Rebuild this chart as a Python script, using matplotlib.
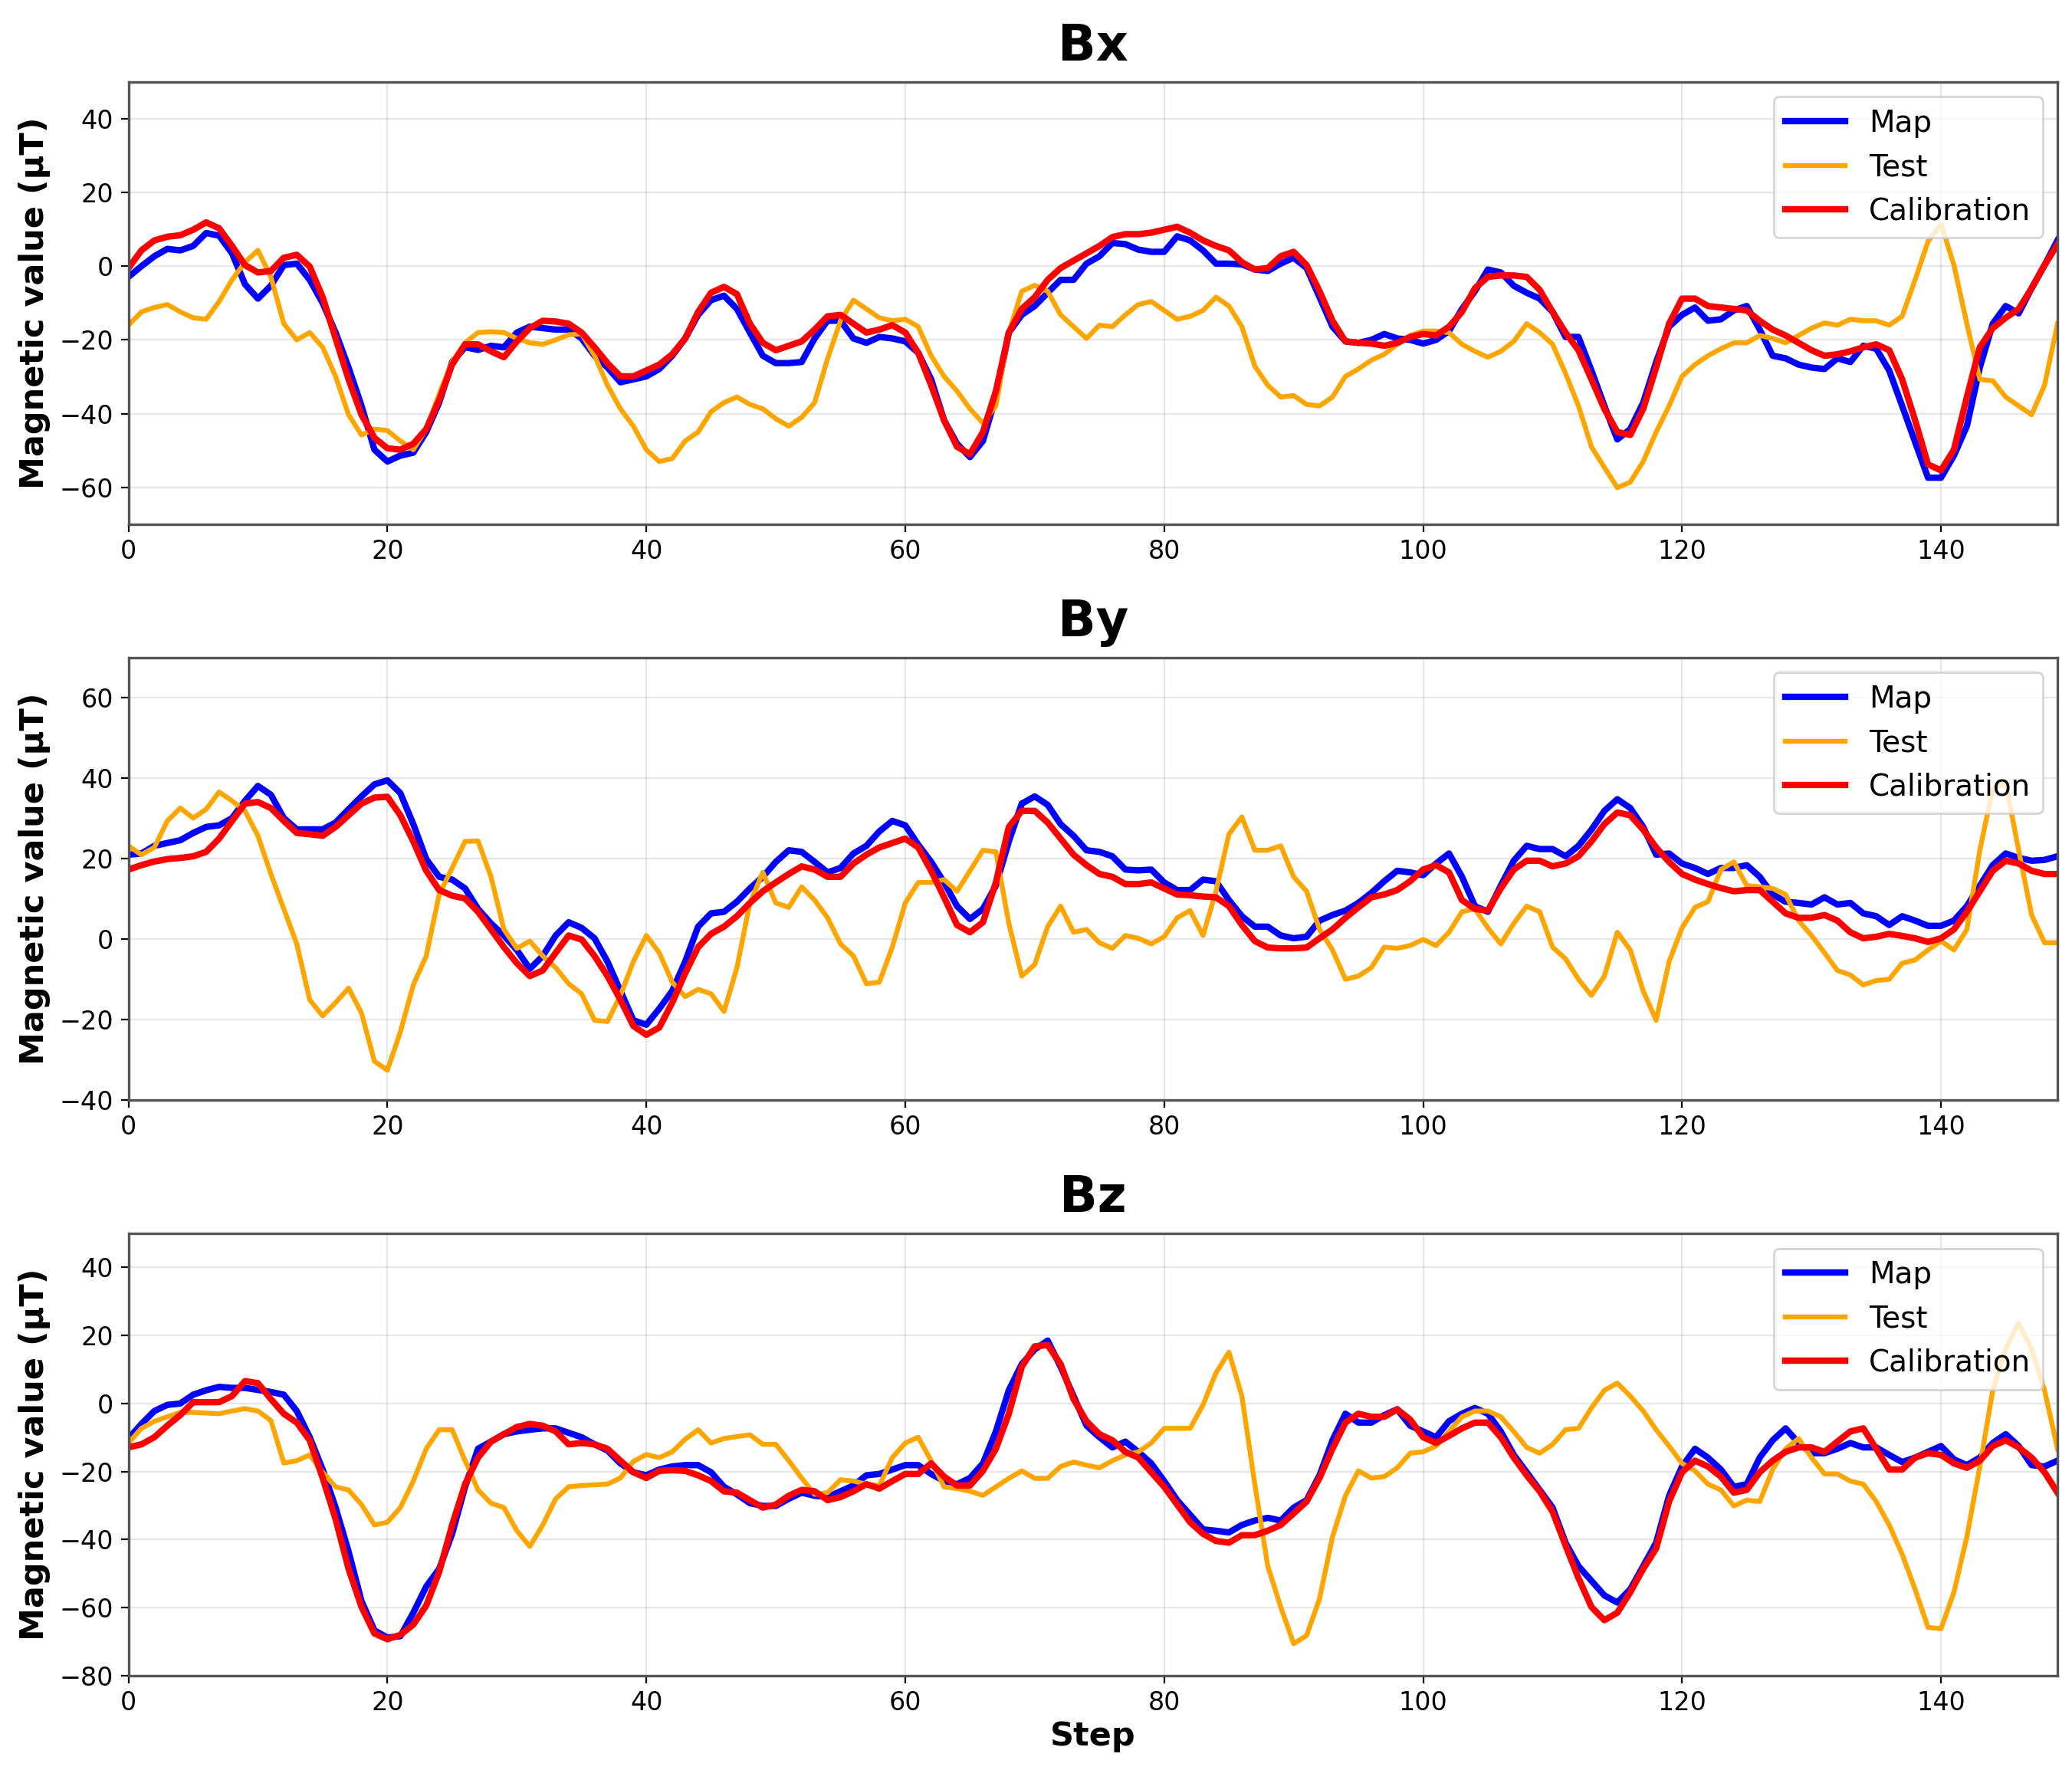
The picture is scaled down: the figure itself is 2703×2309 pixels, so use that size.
import numpy as np
import matplotlib
matplotlib.use("Agg")
import matplotlib.pyplot as plt

# values, one per step (0..149)
steps = np.arange(150)

bx_map = [-2.9, 0, 2.7, 4.7, 4.3, 5.5, 9, 8.3, 3.5, -4.9,
          -8.8, -5.3, 0.3, 0.7, -3.7, -10, -18, -27.5, -37.9, -49.8,
          -53, -51.4, -50.6, -45, -37, -26, -22, -22.7, -21.6, -22,
          -18, -16.4, -16.8, -17.2, -17.2, -19.6, -24.3, -27.5, -31.5, -30.7,
          -29.9, -27.9, -24.3, -19.6, -13.2, -9.2, -8, -11.6, -18, -24.3,
          -26.3, -26.3, -26, -19.6, -14.8, -14.8, -19.6, -20.8, -19.2, -19.6,
          -20.4, -23.5, -30.7, -41.8, -48.2, -51.8, -47.4, -35.5, -18, -13.2,
          -10.8, -7.2, -3.7, -3.7, 0.7, 2.7, 6.3, 6, 4.5, 3.9,
          3.9, 8.1, 7, 4.3, 0.7, 0.7, 0.5, -0.9, -1.3, 0.7,
          2.3, -0.5, -8.4, -16.4, -20.4, -20.8, -20, -18.4, -19.6, -20,
          -21, -20, -17.6, -11.6, -6.8, -0.9, -1.7, -5.3, -7.2, -8.8,
          -12.4, -19.2, -19.2, -28.3, -37.9, -47, -44.2, -37, -26, -16.4,
          -13.2, -11.2, -14.8, -14.4, -12, -10.8, -17.2, -24.3, -25, -26.7,
          -27.5, -27.9, -25, -26, -21.6, -22.4, -28.3, -37.9, -47.7, -57.4,
          -57.4, -51.4, -43.4, -27.5, -15.6, -10.8, -12.8, -6, 0.3, 7]
bx_test = [-16, -12.4, -11.2, -10.4, -12.4, -14, -14.4, -9.6, -3.7, 1.1,
           4.3, -2.9, -15.6, -20, -18, -22, -29.9, -40.3, -45.8, -44.2,
           -44.6, -47.4, -49.8, -44.2, -34.7, -25.9, -20.8, -18, -17.8, -18,
           -19.6, -20.8, -21.2, -20, -18.6, -18.4, -24.3, -32.3, -38.7, -43.4,
           -49.8, -53, -52.2, -47.4, -45, -39.5, -37, -35.5, -37.5, -38.7,
           -41.4, -43.4, -41, -37, -25.1, -14.8, -9.2, -11.6, -14, -14.8,
           -14.4, -16.4, -24.3, -29.9, -33.9, -38.7, -42.6, -37.9, -18, -6.8,
           -5.2, -6.8, -13.2, -16.4, -19.6, -16, -16.4, -13.2, -10.4, -9.6,
           -12, -14.4, -13.6, -12, -8.4, -10.8, -16.4, -27.1, -32.3, -35.5,
           -35.1, -37.5, -37.9, -35.5, -29.9, -27.9, -25.5, -23.9, -21.2, -18.8,
           -17.6, -17.6, -18, -21.2, -23.1, -24.7, -23.1, -20.4, -15.6, -18,
           -21.2, -29.1, -37.9, -49, -54.6, -60.1, -58.6, -53, -45, -37.9,
           -29.9, -26.7, -24.3, -22.4, -20.8, -20.8, -18.8, -19.6, -20.8, -18.8,
           -16.8, -15.4, -16, -14.4, -14.8, -14.8, -16, -13.6, -3.7, 6.7,
           11.5, 0.3, -15.6, -30.7, -31.1, -35.5, -37.9, -40.3, -32.3, -15.6]
bx_cal = [-0.5, 4.3, 7, 8, 8.4, 9.9, 11.9, 10.3, 5.5, 0.3,
          -1.7, -1.3, 2.3, 3.1, -0.1, -8.4, -19.6, -30.7, -40.3, -46.6,
          -49.4, -49.8, -48.2, -44.2, -36.3, -26.7, -21.2, -21.2, -23.1, -24.7,
          -20.4, -16.8, -14.8, -15, -15.6, -18, -22, -26.3, -29.9, -29.9,
          -28.3, -26.7, -23.9, -19.6, -12.4, -7.2, -5.6, -7.6, -15.6, -20.8,
          -22.8, -21.6, -20.4, -17.2, -13.6, -13.2, -15.6, -18, -17.2, -16,
          -18, -23.5, -32.3, -41.8, -49, -51, -45, -33.9, -18, -11.6,
          -8.4, -3.7, -0.5, 1.5, 3.5, 5.5, 7.9, 8.7, 8.7, 9.1,
          9.9, 10.7, 9.1, 7, 5.5, 4.3, 1.1, -0.9, -0.5, 2.7,
          3.9, 0.3, -6.8, -14.8, -20.4, -20.8, -21, -21.6, -20.8, -19.2,
          -18.4, -18.8, -16.4, -12.4, -6, -2.9, -2.5, -2.5, -2.9, -6.4,
          -12.4, -18, -22.8, -30.7, -38.7, -45, -45.8, -38.7, -27.5, -15.6,
          -8.8, -8.8, -10.8, -11.2, -11.6, -12, -14.8, -17.2, -18.8, -20.8,
          -22.8, -24.3, -23.9, -23.1, -22, -21.2, -22.8, -30.7, -41.8, -53.8,
          -55.4, -49.8, -35.5, -22, -16.8, -14, -11.6, -6, 0.3, 5.9]

by_map = [21, 21.3, 23.2, 23.9, 24.6, 26.4, 27.9, 28.3, 30.1, 34.4,
          38.1, 35.9, 30.1, 27.3, 27.3, 27.3, 29, 32.3, 35.5, 38.5,
          39.5, 36.3, 28.6, 19.9, 15.5, 14.8, 12.6, 7.5, 3.9, 0.9,
          -2.7, -7.4, -4.2, 0.9, 4.2, 2.8, 0.2, -5.6, -12.9, -20.2,
          -21.3, -17.3, -12.9, -5.6, 3.1, 6.4, 6.8, 9.3, 12.6, 15.5,
          19.2, 22.1, 21.7, 19.2, 16.6, 17.7, 21.3, 23.2, 26.8, 29.4,
          28.3, 23.5, 19.2, 14.1, 8.2, 5, 7.5, 13.3, 24.3, 33.7,
          35.5, 33.4, 28.6, 25.7, 22.1, 21.7, 20.6, 17.3, 17.1, 17.3,
          14.1, 12.2, 12.2, 14.8, 14.4, 9.7, 5.7, 3.1, 3.1, 0.9,
          0.2, 0.6, 4.6, 6, 7.1, 9, 11.5, 14.4, 17, 16.6,
          15.9, 18.8, 21.3, 15.5, 8.2, 6.8, 13.3, 19.5, 23.2, 22.4,
          22.4, 20.6, 23.2, 27.2, 31.9, 34.8, 32.6, 27.9, 21, 21.3,
          18.8, 17.7, 16.2, 17.7, 17.7, 18.4, 15.5, 11.1, 9.3, 9,
          8.6, 10.4, 8.6, 9, 6.4, 5.7, 3.5, 5.7, 4.6, 3.3,
          3.3, 4.6, 8.2, 13.3, 18.4, 21.3, 20.2, 19.5, 19.7, 20.6]
by_test = [23.2, 21, 22.8, 29.4, 32.6, 30.1, 32.3, 36.6, 34.4, 31.9,
           25.7, 16.2, 7.5, -1.2, -15.1, -19.1, -15.8, -12.2, -18.4, -30.4,
           -32.6, -23.1, -11.4, -4.2, 11.1, 17.7, 24.3, 24.4, 15.5, 2.4,
           -2.3, -0.5, -4.2, -7.1, -11.1, -13.6, -20.2, -20.5, -14, -5.6,
           0.9, -3.4, -10.7, -14.3, -12.5, -13.6, -18, -7.1, 9, 16.6,
           9, 7.9, 13, 9.7, 5.3, -1.2, -4.2, -11.1, -10.7, -2,
           9, 14.1, 14.1, 14.8, 11.9, 17, 22.1, 21.7, 3.9, -9.2,
           -6.3, 3.1, 8.2, 1.7, 2.4, -0.9, -2.3, 0.9, 0.2, -1.2,
           0.6, 5.3, 7.1, 0.9, 11.9, 26.1, 30.4, 22.1, 22.1, 23.2,
           15.5, 11.9, 2.4, -2.7, -10, -9.2, -7.1, -2, -2.3, -1.6,
           -0.1, -1.6, 1.7, 6.8, 7.5, 2.8, -1.2, 3.9, 8.2, 6.8,
           -2, -4.9, -10, -14, -9.2, 1.7, -2.7, -12.9, -20.2, -5.6,
           2.8, 7.9, 9.3, 17.3, 19.2, 13.3, 13, 12.6, 11.1, 4.6,
           0.9, -3.4, -7.8, -8.9, -11.4, -10.3, -10, -6, -5.2, -2.7,
           -0.5, -2.7, 2.4, 22.1, 37.4, 38.8, 22.1, 6, -0.9, -0.9]
by_cal = [17.3, 18.4, 19.3, 19.9, 20.2, 20.6, 21.7, 25, 29.4, 33.7,
          34.1, 32.6, 29.4, 26.4, 26.1, 25.7, 27.9, 30.8, 33.7, 35.2,
          35.4, 30.8, 24.3, 17, 12.2, 10.8, 10.1, 6.8, 2.4, -2,
          -6, -9.2, -7.8, -3.4, 0.9, -0.1, -4.2, -9.2, -15.1, -21.6,
          -23.8, -22, -15.8, -8.5, -2, 1.3, 3.1, 5.7, 9, 11.9,
          14.1, 16.2, 18.1, 17.3, 15.5, 15.5, 18.8, 21, 22.8, 23.9,
          25, 22.8, 17, 10.4, 3.5, 1.7, 4.2, 14.1, 27.9, 31.9,
          31.9, 29, 25, 21, 18.4, 16.2, 15.5, 13.7, 13.7, 14.1,
          12.6, 11.1, 10.9, 10.6, 10.4, 8.2, 3.5, -0.5, -2.1, -2.3,
          -2.3, -2.1, 0.2, 2.4, 5.3, 7.9, 10.4, 11.1, 12.2, 14.4,
          17.3, 18.4, 16.6, 9.7, 7.5, 7.1, 12.6, 17.3, 19.5, 19.5,
          18.1, 18.8, 20.6, 24.3, 28.6, 31.5, 30.8, 27.2, 22.8, 19.2,
          16.2, 14.8, 13.7, 12.7, 11.9, 12.2, 12.2, 9.3, 6.4, 5.3,
          5.3, 6, 4.6, 1.7, 0.2, 0.6, 1.3, 0.8, 0.2, -0.7,
          0.2, 2.4, 6.8, 11.9, 17, 19.5, 18.8, 17, 16.2, 16.2]

bz_map = [-10.3, -6, -2.2, -0.4, 0, 2.6, 3.9, 4.9, 4.6, 4.6,
          4, 3.4, 2.6, -2.2, -9.9, -19.4, -30.6, -43.5, -58.1, -66.7,
          -68.8, -68.4, -61.5, -53.8, -48.6, -38.3, -24.5, -13.3, -11.2, -9,
          -8.2, -7.7, -7.3, -7.3, -8.6, -9.9, -12, -13.8, -17.6, -20.2,
          -21.1, -19.4, -18.5, -18.1, -18.1, -20.2, -24.5, -26.7, -29.3, -30.1,
          -30.1, -28, -26.2, -27.1, -27.5, -25.8, -24.1, -21.1, -20.7, -19.4,
          -18.1, -18.1, -20.7, -22.8, -23.7, -21.9, -17.6, -8.2, 3.9, 11.6,
          15.9, 18.5, 10.8, 2.2, -6.5, -9.9, -12.9, -11.2, -14.2, -17.6,
          -22.8, -28.4, -32.7, -37, -37.4, -37.9, -35.7, -34.4, -33.6, -34.4,
          -30.6, -28.4, -21.1, -10.8, -3, -5.6, -5.6, -3.4, -1.7, -6.5,
          -8.2, -9.9, -5.2, -3, -1.3, -3, -8.2, -15.1, -20.2, -25.4,
          -30.6, -40.9, -47.8, -52.1, -56.4, -58.5, -54.6, -47.8, -40.9, -27.1,
          -18.5, -13.3, -15.9, -19.4, -24.5, -23.7, -15.9, -10.8, -7.3, -11.6,
          -14.6, -14.6, -13.3, -11.6, -12.9, -12.9, -15.1, -17.2, -15.9, -14.2,
          -12.5, -16.4, -18.1, -15.9, -11.6, -9, -12.5, -18.1, -18.5, -16.8]
bz_test = [-11.6, -7.3, -5.2, -3.9, -2.6, -2.6, -2.8, -3, -2.2, -1.5,
           -2.2, -5, -17.5, -16.8, -15.1, -20.2, -24.5, -25.4, -29.7, -35.7,
           -34.9, -30.6, -22.8, -13.3, -7.7, -7.7, -16.8, -25.4, -29.3, -30.6,
           -37.4, -42, -35.7, -28, -24.5, -24.1, -23.9, -23.7, -21.9, -17,
           -15, -15.9, -14.2, -10.5, -7.7, -11.6, -10.3, -9.7, -9.2, -12,
           -12, -16.8, -21.9, -26.7, -26.2, -22.4, -22.8, -23.7, -24.1, -15.9,
           -11.6, -9.9, -16.8, -24.5, -25, -25.8, -27, -24.5, -22, -19.8,
           -22, -22, -18.5, -17.2, -18.1, -18.9, -16.8, -15.1, -14.2, -11.6,
           -7.3, -7.3, -7.3, -0.4, 9, 15.1, 2.2, -23.7, -47.8, -59.8,
           -70.6, -68.2, -57.4, -39.2, -27.1, -19.8, -21.9, -21.5, -18.9, -14.6,
           -14.2, -12.5, -8.2, -3.9, -2.2, -2.2, -3.9, -8.2, -12.9, -14.6,
           -12, -7.7, -7.3, -1.3, 3.9, 6, 2.2, -2.2, -7.7, -12.5,
           -17.6, -19.8, -23.7, -25.4, -30.1, -28.4, -28.8, -19.4, -13.3, -10.3,
           -15.9, -20.7, -20.7, -22.8, -23.7, -28.8, -35.7, -44.3, -54.6, -65.8,
           -66.2, -55.5, -39.2, -18.5, 3.9, 16, 23.7, 16, 3.9, -13.3]
bz_cal = [-12.9, -12, -9.9, -6.5, -3.4, 0.4, 0.4, 0.4, 2.2, 6.6,
          6, 1.3, -3, -5.6, -10.8, -21.9, -34, -48.6, -59.8, -67.6,
          -69.3, -68, -65, -59.4, -49.5, -35.7, -23.7, -15.9, -11.2, -9,
          -6.9, -6, -6.5, -8.2, -12, -11.6, -12, -13.3, -16.8, -20.2,
          -21.9, -19.8, -19.6, -19.8, -21.1, -22.8, -25.8, -26.2, -28.4, -30.6,
          -29.7, -27.1, -25.4, -25.8, -28.4, -27.5, -25.8, -23.7, -25, -22.8,
          -20.7, -20.7, -17.6, -21.5, -24.1, -24.1, -19.8, -13.3, -3, 10.8,
          16.8, 17.2, 11.6, 1.3, -5.2, -9, -10.8, -14.2, -15.9, -20.2,
          -24.5, -29.7, -34.9, -38.3, -40.4, -40.9, -38.7, -38.7, -37.4, -35.7,
          -32.3, -28.8, -21.9, -13.3, -5.6, -3, -3.9, -3.9, -1.7, -4.7,
          -9.9, -11.6, -9.5, -7.3, -5.6, -5.6, -9.9, -15.9, -21.1, -25.8,
          -31.8, -41.7, -51.3, -59.8, -63.7, -61.5, -55.5, -48.6, -42.6, -28.8,
          -20.2, -16.8, -18.5, -21.5, -26.2, -25.4, -20.2, -16.8, -14.2, -12.9,
          -12.9, -14.2, -11.2, -8.2, -7.3, -13.3, -19.4, -19.4, -15.9, -14.6,
          -15.1, -17.6, -18.9, -16.8, -12.5, -10.8, -12.9, -15.9, -20.2, -26.2]

titles = ["Bx", "By", "Bz"]
panels = [(bx_map, bx_test, bx_cal), (by_map, by_test, by_cal), (bz_map, bz_test, bz_cal)]
ylims = [(-70, 50), (-40, 70), (-80, 50)]

fig, axes = plt.subplots(3, 1, figsize=(2703 / 200, 2309 / 200), dpi=200)
fig.subplots_adjust(left=0.062, right=0.993, bottom=0.0533, top=0.9537, hspace=0.302)

for ax, title, (m, t, c), yl in zip(axes, titles, panels, ylims):
    ax.plot(steps, m, color="blue", linewidth=3.0, label="Map")
    ax.plot(steps, t, color="orange", linewidth=2.3, label="Test")
    ax.plot(steps, c, color="red", linewidth=3.0, label="Calibration")
    ax.set_xlim(0, 149)
    ax.set_ylim(*yl)
    ax.set_title(title, fontsize=23.5, fontweight="bold", pad=10)
    ax.set_ylabel("Magnetic value (\u00b5T)", fontsize=15.5, fontweight="bold")
    ax.grid(True, alpha=0.3)
    ax.tick_params(labelsize=12)
    for sp in ax.spines.values():
        sp.set_color("#555555")
        sp.set_linewidth(1.2)
    ax.legend(loc="upper right", fontsize=14)

axes[-1].set_xlabel("Step", fontsize=15.5, fontweight="bold", labelpad=2)

fig.savefig("out.png", dpi=200)
